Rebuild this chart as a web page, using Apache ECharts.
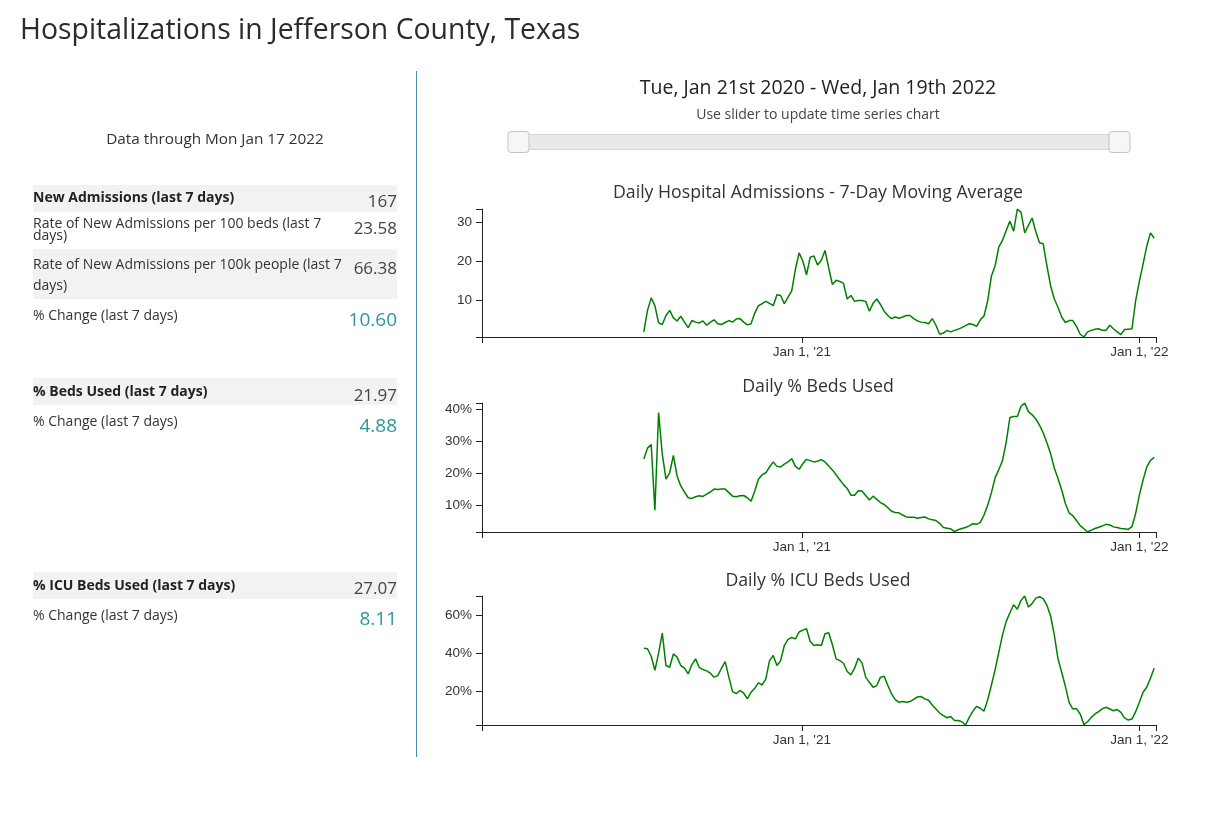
<!DOCTYPE html>
<html>
<head>
<meta charset="utf-8">
<title>Hospitalizations in Jefferson County, Texas</title>
<script src="https://cdn.jsdelivr.net/npm/echarts@6/dist/echarts.min.js"></script>
<style>
  html, body { margin: 0; padding: 0; background: #fff; }
  body { position: relative; width: 1218px; height: 818px; overflow: hidden; font-family: 'Open Sans', sans-serif; color: #333; }
  #chart { position: absolute; left: 0; top: 0; width: 1218px; height: 818px; }
  #panel { position: absolute; left: 0; top: 0; width: 1218px; height: 818px; pointer-events: none; z-index: 2; }
  .t { position: absolute; white-space: nowrap; }
  .band { position: absolute; left: 33px; width: 364px; background: #f2f2f2; }
  .lbl { left: 33px; font-size: 14px; line-height: 14px; color: #333; }
  .lbl b { color: #222; }
  .val { right: 821px; text-align: right; font-size: 17px; line-height: 17px; color: #444; }
  .chg { right: 821px; text-align: right; font-size: 19px; line-height: 19px; color: #29979b; }
</style>
</head>
<body>
<div id="chart"></div>
<div id="panel">
  <div class="t" style="left:20px; top:14px; font-size:28.4px; line-height:28px; color:#2b2b2b;">Hospitalizations in Jefferson County, Texas</div>
  <div class="t" style="left:33px; width:364px; text-align:center; top:131px; font-size:15.3px; line-height:15px; color:#333;">Data through Mon Jan 17 2022</div>

  <div class="band" style="top:185px; height:27px;"></div>
  <div class="band" style="top:249px; height:50px;"></div>
  <div class="band" style="top:378px; height:27px;"></div>
  <div class="band" style="top:572px; height:27px;"></div>

  <div class="t lbl" style="top:190px;"><b>New Admissions (last 7 days)</b></div>
  <div class="t val" style="top:192px;">167</div>
  <div class="t lbl" style="top:217px; line-height:12.3px; height:12.3px;">Rate of New Admissions per 100 beds (last 7</div>
  <div class="t lbl" style="top:229.3px; line-height:12.3px; height:12.3px;">days)</div>
  <div class="t val" style="top:219px;">23.58</div>
  <div class="t lbl" style="top:254px; line-height:20.7px;">Rate of New Admissions per 100k people (last 7<br>days)</div>
  <div class="t val" style="top:259px;">66.38</div>
  <div class="t lbl" style="top:308px;">% Change (last 7 days)</div>
  <div class="t chg" style="top:310px;">10.60</div>

  <div class="t lbl" style="top:384px;"><b>% Beds Used (last 7 days)</b></div>
  <div class="t val" style="top:386px;">21.97</div>
  <div class="t lbl" style="top:414px;">% Change (last 7 days)</div>
  <div class="t chg" style="top:416px;">4.88</div>

  <div class="t lbl" style="top:578px;"><b>% ICU Beds Used (last 7 days)</b></div>
  <div class="t val" style="top:579px;">27.07</div>
  <div class="t lbl" style="top:608px;">% Change (last 7 days)</div>
  <div class="t chg" style="top:609px;">8.11</div>

  <div style="position:absolute; left:416px; top:71px; width:1px; height:686px; background:#4a8caa;"></div>
</div>
<script>
// time range shown by the slider / axes
const axisStart = new Date(2020, 0, 21);
const axisEnd = new Date(2022, 0, 19);
const yearTicks = [+new Date(2021, 0, 1), +new Date(2022, 0, 1)];

// series sampled every 4 days, first point Jul 14 2020, last Jan 17 2022
const firstDay = [2020, 6, 14];
const stepDays = 4;

const admissions = [
  1.9, 7.4, 10.6, 8.6, 4.2, 3.8, 6.1, 7.4, 5.5, 4.7,
  5.9, 4.4, 3.0, 4.8, 4.4, 4.2, 4.7, 3.6, 4.4, 5.0,
  4.0, 3.8, 4.3, 4.8, 4.4, 5.2, 5.3, 4.4, 3.7, 4.0,
  6.7, 8.6, 9.1, 9.7, 9.2, 8.6, 11.4, 11.2, 9.1, 10.8,
  12.4, 17.9, 22.1, 20.0, 16.5, 21.0, 21.3, 19.0, 20.2, 22.7,
  18.3, 14.0, 15.1, 14.8, 14.3, 10.3, 11.2, 9.7, 9.9, 9.9,
  9.7, 7.2, 9.2, 10.3, 8.9, 7.2, 6.1, 5.3, 5.7, 5.4,
  5.7, 6.1, 6.1, 5.3, 4.7, 4.4, 4.3, 4.0, 5.3, 3.6,
  1.3, 1.6, 2.3, 1.9, 2.3, 2.6, 3.0, 3.5, 4.0, 3.8,
  3.3, 5.0, 6.0, 9.9, 16.2, 18.8, 23.6, 25.3, 27.8, 30.2,
  27.6, 33.3, 32.5, 27.2, 29.1, 31.0, 27.5, 24.7, 24.4, 18.8,
  13.7, 10.3, 8.2, 5.7, 4.3, 4.8, 4.8, 3.3, 1.3, 0.6,
  1.9, 2.3, 2.6, 2.7, 2.3, 2.3, 3.6, 2.7, 1.9, 1.2,
  2.5, 2.6, 2.7, 9.9, 14.8, 19.2, 23.8, 27.2, 25.9
];

const bedsUsed = [
  24.5, 27.9, 29.0, 8.5, 39.0, 26.0, 18.2, 20.2, 25.6, 19.2,
  16.1, 14.2, 12.4, 12.2, 12.7, 13.0, 12.8, 13.5, 14.2, 15.1,
  15.0, 15.1, 15.1, 14.0, 12.9, 12.7, 13.0, 13.1, 12.4, 11.3,
  14.5, 18.2, 19.6, 20.2, 22.0, 23.6, 22.2, 22.0, 22.9, 23.6,
  24.6, 22.2, 21.3, 23.0, 24.4, 24.0, 23.6, 23.8, 24.3, 23.6,
  22.3, 21.1, 19.6, 18.0, 16.5, 15.3, 13.2, 13.2, 14.6, 14.5,
  13.1, 11.7, 12.9, 11.9, 10.9, 10.3, 9.3, 8.2, 7.8, 7.7,
  7.0, 6.4, 6.3, 6.3, 6.0, 6.2, 6.4, 5.8, 5.5, 5.3,
  4.4, 3.1, 2.9, 2.7, 1.8, 2.4, 2.8, 3.1, 3.6, 4.3,
  4.1, 4.7, 7.0, 10.1, 14.0, 18.7, 21.2, 24.0, 29.8, 37.5,
  37.8, 37.8, 41.0, 42.0, 39.3, 38.3, 37.0, 35.1, 32.7, 29.6,
  26.2, 21.7, 18.4, 14.8, 10.6, 7.7, 6.8, 5.3, 3.7, 2.7,
  1.7, 2.3, 2.8, 3.2, 3.6, 4.1, 3.9, 3.3, 3.1, 2.8,
  2.7, 2.5, 3.4, 7.5, 13.2, 17.9, 22.0, 24.1, 25.0
];

const icuBedsUsed = [
  42.6, 42.3, 38.4, 31.0, 40.0, 50.5, 33.5, 32.6, 39.6, 37.9,
  33.5, 32.1, 29.1, 34.0, 37.0, 32.5, 31.4, 30.7, 29.5, 27.4,
  28.2, 32.1, 35.6, 27.4, 19.8, 18.8, 20.4, 19.1, 16.0, 19.5,
  21.6, 24.4, 23.3, 26.5, 36.1, 38.8, 33.5, 36.1, 44.0, 47.2,
  48.2, 47.5, 51.1, 52.1, 52.8, 46.1, 44.0, 44.4, 44.0, 50.2,
  50.7, 44.4, 37.0, 36.1, 34.7, 30.4, 28.6, 32.1, 37.4, 34.9,
  27.4, 24.7, 22.1, 23.0, 27.4, 27.9, 23.0, 18.6, 15.6, 14.2,
  14.6, 14.2, 14.6, 15.8, 17.0, 17.2, 16.0, 15.3, 12.8, 10.7,
  8.6, 7.2, 6.1, 6.8, 4.7, 4.7, 4.0, 2.3, 6.3, 9.6,
  12.1, 11.1, 9.6, 15.6, 23.3, 31.4, 40.5, 49.6, 56.7, 61.2,
  65.4, 63.0, 67.7, 70.0, 64.2, 66.0, 68.9, 69.6, 68.6, 65.1,
  59.5, 49.6, 37.0, 30.0, 22.6, 14.2, 10.7, 10.9, 8.1, 2.5,
  4.0, 6.3, 8.1, 9.3, 10.9, 11.6, 10.7, 9.8, 10.4, 8.9,
  6.0, 4.9, 5.4, 9.3, 14.2, 19.5, 22.1, 26.8, 32.1
];

const admissionTicks = [10, 20, 30];
const bedsTicks = [10, 20, 30, 40];
const icuTicks = [20, 40, 60];

const chartTitles = [
  'Daily Hospital Admissions - 7-Day Moving Average',
  'Daily % Beds Used',
  'Daily % ICU Beds Used'
];

const dates = admissions.map((_, i) => +new Date(firstDay[0], firstDay[1], firstDay[2] + i * stepDays));

const axisFont = 'Arial, "Liberation Sans", sans-serif';
const textFont = '"Open Sans", sans-serif';
const axisColor = '#222';
const lineColor = '#008000';

const dayNames = ['Sun', 'Mon', 'Tue', 'Wed', 'Thu', 'Fri', 'Sat'];
const monthNames = ['Jan', 'Feb', 'Mar', 'Apr', 'May', 'Jun', 'Jul', 'Aug', 'Sep', 'Oct', 'Nov', 'Dec'];

function ordinal(n) {
  if (n % 100 >= 11 && n % 100 <= 13) return n + 'th';
  return n + ({ 1: 'st', 2: 'nd', 3: 'rd' }[n % 10] || 'th');
}

function longDate(d) {
  return dayNames[d.getDay()] + ', ' + monthNames[d.getMonth()] + ' ' + ordinal(d.getDate()) + ' ' + d.getFullYear();
}

function rangeText(a, b) {
  return longDate(a) + ' - ' + longDate(b);
}

// short year tick label, e.g. Jan 1, '21
function yearLabel(v) {
  const d = new Date(v);
  return monthNames[d.getMonth()] + ' ' + d.getDate() + ', \'' + String(d.getFullYear()).slice(2);
}

// one panel = grid + axes + line
const panels = [
  { values: admissions, ticks: admissionTicks, suffix: '', top: 209, height: 128 },
  { values: bedsUsed, ticks: bedsTicks, suffix: '%', top: 403, height: 129 },
  { values: icuBedsUsed, ticks: icuTicks, suffix: '%', top: 596, height: 129 }
];
const titleTops = [183, 377, 571];

const grids = panels.map(p => ({
  left: 482, width: 674, top: p.top, height: p.height,
  outerBoundsMode: 'none', containLabel: false
}));

// timestamps on a value axis so the tick positions can be given exactly
const xAxes = panels.map((p, i) => ({
  gridIndex: i,
  type: 'value',
  min: +axisStart,
  max: +axisEnd,
  axisLine: { show: true, onZero: false, lineStyle: { color: axisColor, width: 1 } },
  axisTick: { show: true, length: 6, customValues: [+axisStart, ...yearTicks, +axisEnd], lineStyle: { color: axisColor } },
  axisLabel: {
    customValues: yearTicks,
    formatter: yearLabel,
    margin: 8, fontSize: 13.5, color: '#333', fontFamily: axisFont
  },
  splitLine: { show: false }
}));

const yAxes = panels.map((p, i) => {
  const lo = Math.min(...p.values);
  const hi = Math.max(...p.values);
  return {
    gridIndex: i,
    type: 'value',
    min: lo,
    max: hi,
    axisLine: { show: true, onZero: false, lineStyle: { color: axisColor, width: 1 } },
    axisTick: { show: true, length: 6, customValues: [lo, ...p.ticks, hi], lineStyle: { color: axisColor } },
    axisLabel: {
      customValues: p.ticks,
      formatter: v => v + p.suffix,
      margin: 10, fontSize: 13.5, color: '#333', fontFamily: axisFont
    },
    splitLine: { show: false }
  };
});

const series = panels.map((p, i) => ({
  type: 'line',
  xAxisIndex: i,
  yAxisIndex: i,
  data: dates.map((d, k) => [d, p.values[k]]),
  showSymbol: false,
  symbol: 'none',
  lineStyle: { color: lineColor, width: 1.5 },
  itemStyle: { color: lineColor },
  emphasis: { disabled: true }
}));

const titles = [
  {
    text: rangeText(axisStart, axisEnd), left: 818, top: 76, textAlign: 'center', padding: 0,
    textStyle: { fontFamily: textFont, fontSize: 19.5, fontWeight: 'normal', color: '#222', lineHeight: 24 }
  },
  {
    text: 'Use slider to update time series chart', left: 818, top: 106, textAlign: 'center', padding: 0,
    textStyle: { fontFamily: textFont, fontSize: 14, fontWeight: 'normal', color: '#444', lineHeight: 18 }
  },
  ...chartTitles.map((t, i) => ({
    text: t, left: 818, top: titleTops[i], textAlign: 'center', padding: 0,
    textStyle: { fontFamily: textFont, fontSize: 17.7, fontWeight: 'normal', color: '#333', lineHeight: 20 }
  }))
];

const chart = echarts.init(document.getElementById('chart'));
chart.setOption({
  animation: false,
  backgroundColor: '#fff',
  title: titles,
  grid: grids,
  xAxis: xAxes,
  yAxis: yAxes,
  series: series,
  dataZoom: [{
    type: 'slider',
    xAxisIndex: [0, 1, 2],
    filterMode: 'none',
    start: 0,
    end: 100,
    left: 516,
    width: 603,
    top: 134,
    height: 16,
    showDetail: false,
    showDataShadow: false,
    brushSelect: false,
    moveHandleSize: 0,
    backgroundColor: '#e9e9e9',
    borderColor: '#d6d6d6',
    fillerColor: 'rgba(0,0,0,0)',
    handleIcon: 'path://M3,0H18A3,3,0,0,1,21,3V18A3,3,0,0,1,18,21H3A3,3,0,0,1,0,18V3A3,3,0,0,1,3,0Z',
    handleSize: '131%',
    handleStyle: { color: '#f6f6f6', borderColor: '#c5c5c5', borderWidth: 1 },
    emphasis: { handleStyle: { color: '#ededed', borderColor: '#bbbbbb' } },
    dataBackground: { lineStyle: { opacity: 0 }, areaStyle: { opacity: 0 } }
  }]
});

// keep the header text in step with the slider
chart.on('datazoom', () => {
  const dz = chart.getOption().dataZoom[0];
  const span = +axisEnd - +axisStart;
  const a = new Date(+axisStart + span * dz.start / 100);
  const b = new Date(+axisStart + span * dz.end / 100);
  chart.setOption({ title: [{ text: rangeText(a, b) }] });
});

window.addEventListener('resize', () => chart.resize());
</script>
</body>
</html>
